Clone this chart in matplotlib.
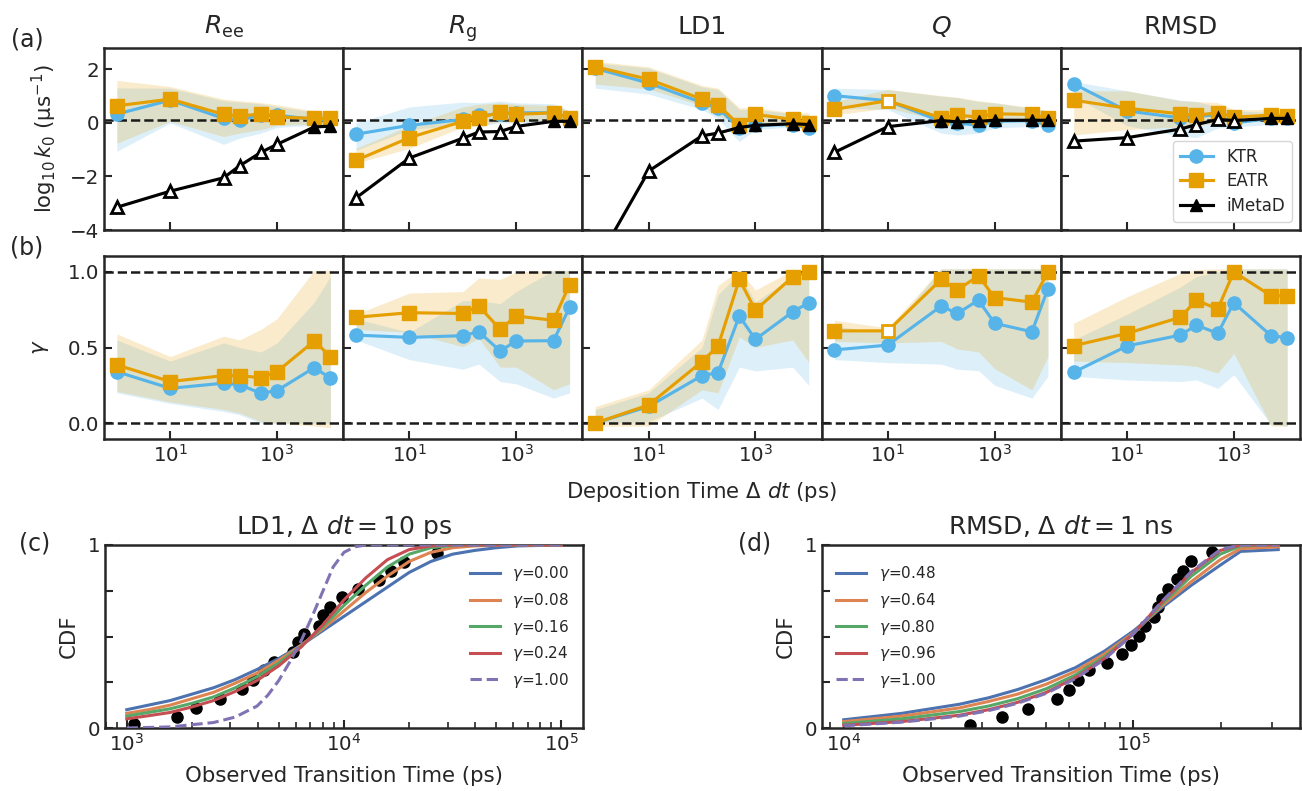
import numpy as np
import matplotlib
matplotlib.use("Agg")
import matplotlib.pyplot as plt
from matplotlib.lines import Line2D
from matplotlib.ticker import FixedLocator, NullLocator, LogLocator, NullFormatter

# ---------------- data ----------------
dep_time = [1, 10, 100, 200, 500, 1000, 5000, 10000]
cv_titles = [r"$R_{\rm ee}$", r"$R_{\rm g}$", "LD1", r"$Q$", "RMSD"]
k0_ref = 0.12

# (a) log10 k0  (Ree, Rg, LD1, Q, RMSD)
k_ktr = [[0.33, 0.85, 0.17, 0.10, 0.30, 0.29, 0.13, 0.13],
         [-0.42, -0.09, 0.13, 0.28, 0.34, 0.38, 0.38, 0.17],
         [2.04, 1.49, 0.76, 0.55, -0.19, -0.09, -0.06, -0.19],
         [1.02, 0.83, 0.06, 0.0, -0.09, 0.06, 0.09, -0.09],
         [1.46, 0.45, 0.19, 0.25, 0.30, 0.0, 0.17, 0.19]]
k_ktr_lo = [[-1.06, 0.0, -0.8, -0.57, -0.38, -0.17, -0.09, 0.0],
            [-1.02, -0.25, -0.06, -0.1, 0.0, 0.0, 0.05, 0.05],
            [1.3, 1.08, 0.5, 0.15, -0.7, -0.25, -0.15, -0.25],
            [0.55, 0.5, -0.38, -0.45, -0.38, -0.19, -0.13, -0.19],
            [1.0, -0.1, -0.5, -0.55, -0.19, -0.15, -0.05, 0.0]]
k_ktr_hi = [[1.31, 1.3, 0.83, 0.78, 0.72, 0.62, 0.4, 0.3],
            [0.0, 0.6, 0.78, 0.75, 0.82, 0.75, 0.72, 0.45],
            [2.25, 2.05, 1.35, 1.25, 0.5, 0.5, 0.35, 0.3],
            [1.3, 1.25, 1.0, 0.95, 0.8, 0.75, 0.55, 0.45],
            [1.55, 1.2, 0.85, 0.8, 0.6, 0.45, 0.4, 0.35]]
k_eatr = [[0.64, 0.89, 0.32, 0.25, 0.34, 0.22, 0.17, 0.17],
          [-1.40, -0.55, 0.06, 0.17, 0.41, 0.32, 0.38, 0.19],
          [2.10, 1.63, 0.89, 0.68, -0.09, 0.32, 0.13, 0.0],
          [0.51, 0.83, 0.19, 0.29, 0.22, 0.34, 0.32, 0.19],
          [0.85, 0.55, 0.34, 0.29, 0.38, 0.22, 0.29, 0.25]]
k_eatr_lo = [[-0.76, 0.06, -0.51, -0.38, -0.25, -0.09, -0.04, 0.04],
             [-1.5, -0.95, -0.15, -0.1, 0.05, 0.05, 0.1, 0.1],
             [1.45, 1.27, 0.64, 0.25, 0.0, -0.13, -0.06, -0.13],
             [0.3, 0.55, 0.1, 0.1, 0.05, 0.05, 0.05, 0.05],
             [-0.45, -0.25, -0.15, -0.1, 0.0, 0.05, 0.1, 0.1]]
k_eatr_hi = [[1.59, 1.36, 0.89, 0.83, 0.76, 0.68, 0.45, 0.34],
             [-0.95, -0.1, 0.6, 0.7, 0.75, 0.7, 0.65, 0.45],
             [2.3, 2.1, 1.4, 1.3, 0.57, 0.57, 0.38, 0.38],
             [0.8, 1.25, 1.02, 0.96, 0.83, 0.76, 0.57, 0.45],
             [1.2, 1.2, 0.83, 0.8, 0.76, 0.5, 0.5, 0.38]]
k_imetad = [[-3.15, -2.55, -2.05, -1.6, -1.1, -0.8, -0.15, -0.12],
            [-2.80, -1.31, -0.57, -0.34, -0.32, -0.13, 0.06, 0.06],
            [-5.3, -1.8, -0.48, -0.38, -0.17, -0.09, -0.03, -0.06],
            [-1.10, -0.14, 0.09, 0.04, 0.06, 0.10, 0.10, 0.10],
            [-0.68, -0.55, -0.23, -0.06, 0.13, 0.09, 0.17, 0.17]]
imetad_open = [[1, 1, 1, 1, 1, 1, 0, 0],
               [1, 1, 1, 1, 1, 1, 0, 0],
               [1, 1, 1, 1, 0, 0, 0, 0],
               [1, 1, 0, 0, 0, 0, 0, 0],
               [1, 1, 1, 1, 1, 1, 0, 0]]
eatr_open = [[0] * 8, [0] * 8, [0] * 8,
             [0, 1, 0, 0, 0, 0, 0, 0], [0] * 8]

# (b) gamma
g_ktr = [[0.34, 0.23, 0.264, 0.253, 0.198, 0.215, 0.367, 0.297],
         [0.582, 0.567, 0.578, 0.604, 0.477, 0.543, 0.545, 0.765],
         [0.0, 0.11, 0.314, 0.334, 0.708, 0.554, 0.736, 0.796],
         [0.484, 0.516, 0.774, 0.725, 0.813, 0.66, 0.604, 0.89],
         [0.336, 0.51, 0.582, 0.648, 0.593, 0.796, 0.578, 0.565]]
g_ktr_lo = [[0.2, 0.13, 0.077, 0.055, 0.0, 0.0, 0.0, 0.0],
            [0.55, 0.42, 0.356, 0.39, 0.275, 0.26, 0.165, 0.2],
            [0.0, 0.01, 0.165, 0.09, 0.37, 0.345, 0.37, 0.25],
            [0.42, 0.40, 0.39, 0.356, 0.347, 0.25, 0.165, 0.31],
            [0.31, 0.285, 0.275, 0.285, 0.23, 0.32, -0.01, -0.02]]
g_ktr_hi = [[0.55, 0.41, 0.53, 0.5, 0.47, 0.53, 0.8, 0.97],
            [0.69, 0.6, 0.81, 0.81, 0.79, 0.87, 1.01, 1.01],
            [0.09, 0.2, 0.5, 0.85, 0.99, 0.8, 0.97, 0.97],
            [0.64, 0.6, 1.02, 1.02, 1.02, 1.02, 1.02, 1.02],
            [0.55, 0.72, 0.9, 0.97, 1.0, 1.02, 1.02, 1.02]]
g_eatr = [[0.385, 0.275, 0.314, 0.314, 0.30, 0.34, 0.543, 0.44],
          [0.70, 0.73, 0.725, 0.774, 0.62, 0.708, 0.68, 0.916],
          [0.0, 0.12, 0.407, 0.51, 0.95, 0.747, 0.967, 1.0],
          [0.61, 0.61, 0.95, 0.88, 0.974, 0.83, 0.80, 1.0],
          [0.512, 0.593, 0.70, 0.813, 0.754, 1.0, 0.842, 0.842]]
g_eatr_lo = [[0.21, 0.14, 0.09, 0.066, 0.01, 0.0, -0.02, -0.03],
             [0.62, 0.60, 0.505, 0.56, 0.37, 0.37, 0.22, 0.26],
             [-0.02, -0.02, 0.22, 0.2, 0.57, 0.5, 0.55, 0.4],
             [0.54, 0.53, 0.54, 0.49, 0.47, 0.36, 0.22, 0.44],
             [0.41, 0.40, 0.385, 0.375, 0.33, 0.46, -0.02, -0.02]]
g_eatr_hi = [[0.59, 0.44, 0.575, 0.55, 0.62, 0.69, 1.01, 1.01],
             [0.72, 0.86, 0.87, 0.96, 0.95, 1.0, 1.01, 1.01],
             [0.11, 0.22, 0.55, 0.91, 1.01, 0.88, 1.01, 1.01],
             [0.68, 0.63, 1.02, 1.02, 1.02, 1.02, 1.02, 1.02],
             [0.66, 0.835, 0.99, 1.015, 1.02, 1.02, 1.02, 1.02]]

# (c) LD1, dt = 10 ps
c_obs_t = [1084, 1698, 2089, 2692, 3388, 3802, 4266, 4786, 5821, 6124,
           6561, 7709, 8035, 8610, 9840, 11560, 14450, 16440, 18790, 26920]
c_obs_cdf = [0.02, 0.06, 0.11, 0.16, 0.215, 0.26, 0.315, 0.36, 0.415, 0.47,
             0.515, 0.56, 0.615, 0.66, 0.715, 0.76, 0.81, 0.86, 0.905, 0.956]
c_gammas = ["0.00", "0.08", "0.16", "0.24"]
c_t = [1000, 1259, 1585, 1995, 2512, 3162, 3981, 5012, 6310, 7943, 10000,
       12590, 15850, 19950, 25120, 31620, 39810, 50120, 63100, 100000]
c_cdf = [[0.10, 0.125, 0.15, 0.185, 0.22, 0.265, 0.32, 0.38, 0.45, 0.53, 0.61,
          0.69, 0.77, 0.85, 0.91, 0.95, 0.97, 0.985, 0.995, 1.0],
         [0.08, 0.10, 0.125, 0.16, 0.195, 0.245, 0.30, 0.37, 0.45, 0.54, 0.64,
          0.74, 0.83, 0.91, 0.96, 0.985, 0.995, 0.998, 1.0, 1.0],
         [0.065, 0.085, 0.105, 0.135, 0.17, 0.22, 0.28, 0.355, 0.445, 0.55, 0.67,
          0.78, 0.88, 0.95, 0.985, 0.997, 1.0, 1.0, 1.0, 1.0],
         [0.05, 0.067, 0.085, 0.115, 0.15, 0.20, 0.26, 0.34, 0.44, 0.56, 0.70,
          0.82, 0.92, 0.975, 0.995, 1.0, 1.0, 1.0, 1.0, 1.0]]
c_t_g1 = [1000, 1585, 2512, 3162, 3981, 4467, 5012, 5623, 6310, 7079, 7943,
          8913, 10000, 11220, 12590, 100000]
c_cdf_g1 = [0.0, 0.006, 0.03, 0.06, 0.12, 0.18, 0.26, 0.36, 0.47, 0.60, 0.74,
            0.88, 0.96, 0.99, 1.0, 1.0]

# (d) RMSD, dt = 1 ns
d_obs_t = [27230, 35320, 43250, 54450, 59700, 64570, 69980, 80910, 91200, 97720,
           104700, 109600, 117500, 121600, 125900, 131800, 141300, 147900, 158500, 186200]
d_obs_cdf = [0.015, 0.06, 0.105, 0.156, 0.205, 0.26, 0.315, 0.356, 0.405, 0.456,
             0.505, 0.56, 0.605, 0.66, 0.705, 0.76, 0.815, 0.86, 0.915, 0.96]
d_gammas = ["0.48", "0.64", "0.80", "0.96", "1.00"]
d_t = [10000, 15850, 25120, 31620, 39810, 50120, 63100, 79430, 100000,
       125900, 158500, 199500, 234400, 316200]
d_cdf = [[0.045, 0.08, 0.13, 0.165, 0.21, 0.265, 0.33, 0.42, 0.53, 0.66, 0.78, 0.89, 0.965, 0.975],
         [0.035, 0.065, 0.11, 0.145, 0.185, 0.24, 0.31, 0.405, 0.52, 0.67, 0.80, 0.92, 0.98, 0.99],
         [0.025, 0.05, 0.09, 0.12, 0.16, 0.215, 0.29, 0.39, 0.515, 0.68, 0.83, 0.95, 0.995, 1.0],
         [0.015, 0.035, 0.07, 0.10, 0.14, 0.195, 0.275, 0.38, 0.515, 0.69, 0.85, 0.97, 1.0, 1.0],
         [0.012, 0.032, 0.065, 0.095, 0.135, 0.19, 0.27, 0.375, 0.515, 0.695, 0.855, 0.975, 1.0, 1.0]]

# ---------------- style ----------------
DARK = "#262626"
plt.rcParams.update({
    "font.family": ["DejaVu Sans"],
    "text.color": DARK, "axes.labelcolor": DARK,
    "axes.edgecolor": DARK, "xtick.color": DARK, "ytick.color": DARK,
    "axes.linewidth": 1.8,
    "xtick.direction": "in", "ytick.direction": "in",
    "xtick.major.size": 6, "ytick.major.size": 6,
    "xtick.major.width": 1.5, "ytick.major.width": 1.5,
    "xtick.minor.size": 4, "xtick.minor.width": 1.2,
    "xtick.labelsize": 14.3, "ytick.labelsize": 14.3,
    "axes.labelsize": 15.3, "axes.titlesize": 18,
})
C_KTR = "#56B4E9"
C_EATR = "#E69F00"
LW = 2.25

W, H = 1302, 791
fig = plt.figure(figsize=(W / 100, H / 100), dpi=100)


def px_axes(l, t, r, b):
    return fig.add_axes([l / W, 1 - b / H, (r - l) / W, (b - t) / H])


def draw_series(ax, y, color, marker, ms, open_flags, z):
    ax.plot(dep_time, y, "-", color=color, lw=LW, zorder=z)
    xf = [x for x, o in zip(dep_time, open_flags) if not o]
    yf = [v for v, o in zip(y, open_flags) if not o]
    xo = [x for x, o in zip(dep_time, open_flags) if o]
    yo = [v for v, o in zip(y, open_flags) if o]
    ax.plot(xf, yf, ls="none", marker=marker, ms=ms, mfc=color, mec=color,
            mew=1.0, zorder=z + 0.1)
    ax.plot(xo, yo, ls="none", marker=marker, ms=ms - 1, mfc="white", mec=color,
            mew=2.0, zorder=z + 0.1)


x0, x1 = 104, 1300
pw = (x1 - x0) / 5
xlim_top = (10 ** -0.24, 10 ** 4.24)
axes_a, axes_b = [], []
for i in range(5):
    l = x0 + i * pw
    r = l + pw
    axa = px_axes(l, 48, r, 230)
    axb = px_axes(l, 256, r, 439)
    axes_a.append(axa)
    axes_b.append(axb)

    # (a)
    axa.fill_between(dep_time, k_ktr_lo[i], k_ktr_hi[i], color=C_KTR, alpha=0.2, lw=0, zorder=1)
    axa.fill_between(dep_time, k_eatr_lo[i], k_eatr_hi[i], color=C_EATR, alpha=0.2, lw=0, zorder=1)
    axa.axhline(k0_ref, color="#1a1a1a", ls="--", lw=1.8, zorder=2)
    draw_series(axa, k_ktr[i], C_KTR, "o", 9.5, [0] * 8, 3)
    draw_series(axa, k_eatr[i], C_EATR, "s", 9.5, eatr_open[i], 4)
    draw_series(axa, k_imetad[i], "black", "^", 9, imetad_open[i], 5)
    axa.set_ylim(-4, 2.8)
    axa.set_title(cv_titles[i], pad=10)

    # (b)
    axb.fill_between(dep_time, g_ktr_lo[i], g_ktr_hi[i], color=C_KTR, alpha=0.2, lw=0, zorder=1)
    axb.fill_between(dep_time, g_eatr_lo[i], g_eatr_hi[i], color=C_EATR, alpha=0.2, lw=0, zorder=1)
    axb.axhline(0.0, color="#1a1a1a", ls="--", lw=1.8, zorder=2)
    axb.axhline(1.0, color="#1a1a1a", ls="--", lw=1.8, zorder=2)
    draw_series(axb, g_ktr[i], C_KTR, "o", 9.5, [0] * 8, 3)
    draw_series(axb, g_eatr[i], C_EATR, "s", 9.5, eatr_open[i], 4)
    axb.set_ylim(-0.105, 1.105)

    for ax in (axa, axb):
        ax.set_xscale("log")
        ax.set_xlim(*xlim_top)
        ax.xaxis.set_major_locator(FixedLocator([10, 1000]))
        ax.xaxis.set_minor_locator(NullLocator())
        ax.tick_params(which="both", top=False, right=False)
    axa.set_xticklabels([])
    axa.set_yticks([-4, -2, 0, 2])
    axb.set_yticks([0.0, 0.5, 1.0])
    if i == 0:
        axa.set_yticklabels(["\u22124", "\u22122", "0", "2"])
        axb.set_yticklabels(["0.0", "0.5", "1.0"])
        axa.set_ylabel(r"$\log_{10} k_0$ (μs$^{-1}$)", labelpad=8)
        axb.set_ylabel(r"$\gamma$", labelpad=12)
    else:
        axa.set_yticklabels([])
        axb.set_yticklabels([])
    axb.set_xticks([10, 1000])
    axb.set_xticklabels([r"$10^1$", r"$10^3$"])

axes_b[2].set_xlabel(r"Deposition Time $\Delta$ $dt$ (ps)", labelpad=10)

handles = [Line2D([], [], color=C_KTR, marker="o", ms=9.5, lw=LW, label="KTR"),
           Line2D([], [], color=C_EATR, marker="s", ms=9.5, lw=LW, label="EATR"),
           Line2D([], [], color="black", marker="^", ms=9, lw=LW, label="iMetaD")]
axes_a[4].legend(handles=handles, loc="lower right", fontsize=12, frameon=True,
                 framealpha=0.8, edgecolor="#cccccc", handlelength=2.0,
                 labelspacing=0.4)

fig.text(27 / W, 1 - 40 / H, "(a)", fontsize=17, ha="center", va="center")
fig.text(27 / W, 1 - 247 / H, "(b)", fontsize=17, ha="center", va="center")
fig.text(35 / W, 1 - 543 / H, "(c)", fontsize=17, ha="center", va="center")
fig.text(755 / W, 1 - 543 / H, "(d)", fontsize=17, ha="center", va="center")

# ---------------- (c) and (d) ----------------
deep = ["#4C72B0", "#DD8452", "#55A868", "#C44E52", "#8172B3"]
axc = px_axes(105, 545, 583, 728)
axd = px_axes(822, 545, 1300, 728)

axc.plot(c_obs_t, c_obs_cdf, "o", color="black", ms=8, zorder=2)
for j, g in enumerate(c_gammas):
    axc.plot(c_t, c_cdf[j], color=deep[j], lw=2.2, zorder=3, label=r"$\gamma$=" + g)
axc.plot(c_t_g1, c_cdf_g1, color=deep[4], lw=2.2, ls="--", zorder=3, label=r"$\gamma$=1.00")
axc.set_xlim(10 ** 2.9, 10 ** 5.1)
axc.set_title(r"LD1, $\Delta\ dt = 10$ ps", fontsize=18, pad=8)
axc.legend(loc="upper right", fontsize=11, frameon=False, bbox_to_anchor=(1.0, 0.97))

axd.plot(d_obs_t, d_obs_cdf, "o", color="black", ms=8, zorder=2)
for j, g in enumerate(d_gammas):
    axd.plot(d_t, d_cdf[j], color=deep[j], lw=2.2, zorder=3,
             ls="--" if g == "1.00" else "-", label=r"$\gamma$=" + g)
axd.set_xlim(10 ** 3.925, 10 ** 5.575)
axd.set_title(r"RMSD, $\Delta\ dt = 1$ ns", fontsize=18, pad=8)
axd.legend(loc="upper left", fontsize=11, frameon=False, bbox_to_anchor=(0.0, 0.97))

for ax in (axc, axd):
    ax.set_xscale("log")
    ax.set_ylim(0, 1)
    ax.set_yticks([0, 0.25, 0.5, 0.75, 1.0])
    ax.set_yticklabels(["0", "", "", "", "1"])
    ax.xaxis.set_major_locator(LogLocator(base=10, numticks=10))
    ax.xaxis.set_minor_locator(LogLocator(base=10, subs=np.arange(2, 10), numticks=20))
    ax.xaxis.set_minor_formatter(NullFormatter())
    ax.tick_params(which="both", top=False, right=False)
    ax.set_xlabel("Observed Transition Time (ps)", labelpad=8)
    ax.set_ylabel("CDF", labelpad=6)

fig.savefig("out.png", dpi=100)
